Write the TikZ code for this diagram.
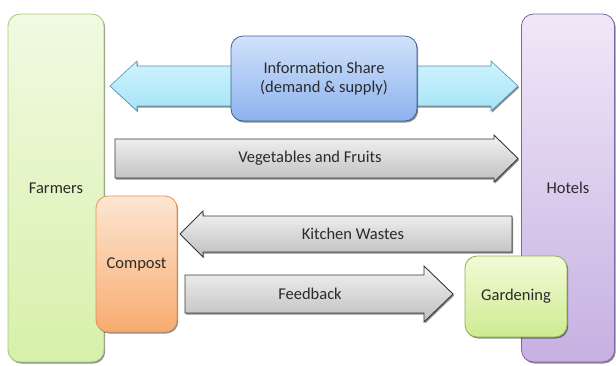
\documentclass[tikz,border=0pt]{standalone}
\usepackage{fontspec}
\setmainfont{Carlito}
\usetikzlibrary{shadows}
\definecolor{txt}{HTML}{2A2A2A}
\definecolor{farmTop}{HTML}{F1FAE2}
\definecolor{farmBot}{HTML}{D7F0AA}
\definecolor{farmLine}{HTML}{A9C97A}
\definecolor{hotTop}{HTML}{F0E8F8}
\definecolor{hotBot}{HTML}{C6B0E2}
\definecolor{hotLine}{HTML}{7E66A6}
\definecolor{infoTop}{HTML}{D2E2FB}
\definecolor{infoBot}{HTML}{8CB2EE}
\definecolor{infoLine}{HTML}{3F5F95}
\definecolor{cyTop}{HTML}{CFF3FD}
\definecolor{cyBot}{HTML}{A6E4F6}
\definecolor{cyLine}{HTML}{4F93AE}
\definecolor{compTop}{HTML}{FDE6D2}
\definecolor{compBot}{HTML}{F7AC70}
\definecolor{compLine}{HTML}{E0975A}
\definecolor{gardTop}{HTML}{F2FBD8}
\definecolor{gardBot}{HTML}{CDEB90}
\definecolor{gardLine}{HTML}{8EAF50}
\tikzset{
  lbl/.style={text=txt, font=\fontsize{16.5}{19.5}\selectfont, inner sep=0pt, align=center},
  shd/.style={drop shadow={shadow xshift=1.2pt, shadow yshift=-1.5pt, opacity=0.45, fill=black}},
  panel/.style={shd, rounded corners=12pt, line width=0.8pt, inner sep=0pt, lbl},
  grayarrow/.style={shd, draw=black!78, line width=0.9pt, top color=black!5, bottom color=black!25},
  infoarrow/.style={shd, draw=cyLine, line width=0.6pt, top color=cyTop, bottom color=cyBot},
}
\begin{document}
\begin{tikzpicture}[x=1pt, y=-1pt]
  \useasboundingbox (0,0) rectangle (616,365);
  % side columns
  \node[panel, draw=farmLine, top color=farmTop, bottom color=farmBot,
        minimum width=96pt, minimum height=348pt] (farmers) at (56,188) {Farmers};
  \node[panel, draw=hotLine, top color=hotTop, bottom color=hotBot,
        minimum width=93pt, minimum height=348pt] (hotels) at (568,188) {Hotels};
  % two-way information arrow behind the info box
  \path[infoarrow] (110,86) -- (137,61) -- (137,66) -- (491,66) -- (491,61) -- (518,86)
        -- (491,111) -- (491,106) -- (137,106) -- (137,111) -- cycle;
  % produce flow to hotels
  \path[grayarrow] (115,139) -- (494,139) -- (494,135) -- (518,158.5) -- (494,182)
        -- (494,178) -- (115,178) -- cycle;
  \node[lbl] (veg) at (310,158.5) {Vegetables and Fruits};
  % waste flow back to compost
  \path[grayarrow] (512,216) -- (203,216) -- (203,211) -- (180,234) -- (203,257)
        -- (203,252) -- (512,252) -- cycle;
  \node[lbl] (waste) at (353,234) {Kitchen Wastes};
  % feedback to gardening
  \path[grayarrow] (185,275) -- (424,275) -- (424,266) -- (453,294) -- (424,322)
        -- (424,313) -- (185,313) -- cycle;
  \node[lbl] (feed) at (310,294) {Feedback};
  % inner boxes
  \node[panel, draw=compLine, top color=compTop, bottom color=compBot,
        minimum width=81pt, minimum height=136pt] (compost) at (136.5,264) {Compost};
  \node[panel, draw=gardLine, top color=gardTop, bottom color=gardBot,
        minimum width=102pt, minimum height=81pt] (garden) at (516,296.5) {Gardening};
  \node[panel, draw=infoLine, top color=infoTop, bottom color=infoBot,
        minimum width=186pt, minimum height=85pt] (info) at (324,78.5)
        {Information Share\\(demand \& supply)};
\end{tikzpicture}
\end{document}
